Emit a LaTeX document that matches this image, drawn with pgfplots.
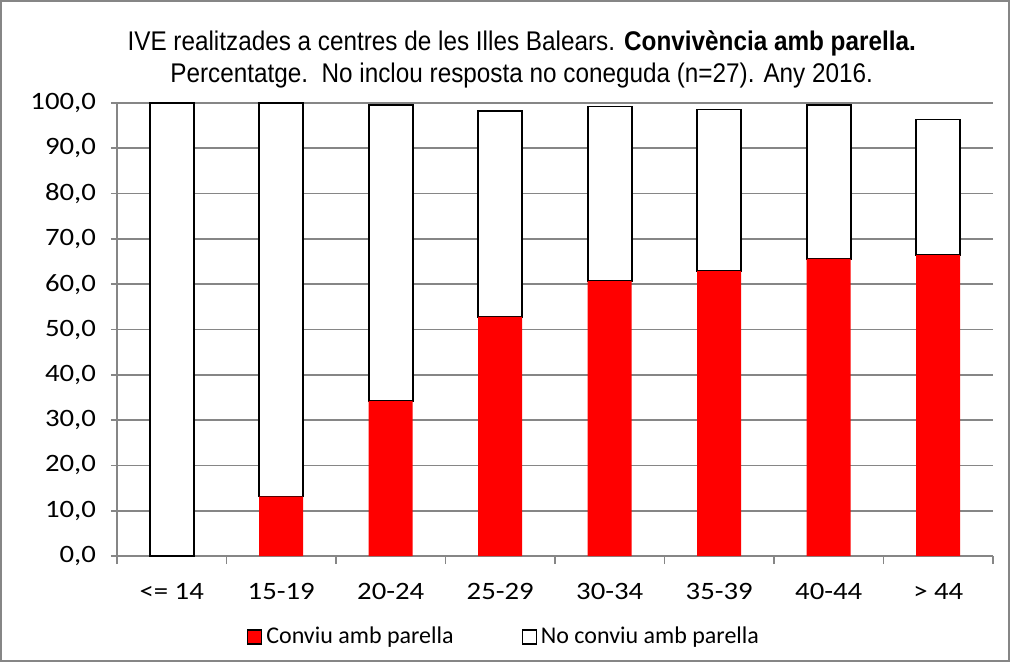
\documentclass[border=0pt]{standalone}
\usepackage{fontspec}
\setmainfont{Carlito}
\newfontfamily\tickfont[FakeStretch=1.15]{Carlito}
\newfontfamily\titlefont[FakeStretch=0.9]{Liberation Sans}
\usepackage{pgfplots}
\pgfplotsset{compat=1.18}
\definecolor{gridgray}{RGB}{134,134,134}
\definecolor{barred}{RGB}{255,0,0}

\begin{document}
\begin{tikzpicture}
% 1 px of the reference = 0.5pt; axis origin at pixel (117,556)
\useasboundingbox (-58.5pt,-53pt) rectangle (446.5pt,278pt);
\draw[gridgray,line width=1pt] (-58pt,-52.5pt) rectangle (446pt,277.5pt);
\begin{axis}[
  at={(0,0)},anchor=south west,
  scale only axis,width=438pt,height=226.5pt,
  ybar stacked,bar width=22pt,
  xmin=-0.5,xmax=7.5,ymin=0,ymax=100,
  axis x line*=bottom,axis y line*=left,
  axis line style={gridgray,line width=0.8pt},
  ymajorgrids,grid style={gridgray,line width=0.8pt},
  ytick={0,10,...,100},
  xtick={0,...,7},
  xticklabels={{<= 14},15-19,20-24,25-29,30-34,35-39,40-44,{> 44}},
  minor xtick={-0.5,0.5,...,7.5},
  tick align=outside,
  major tick length=3pt,
  x tick style={draw=none},
  minor x tick style={draw=gridgray,line width=0.8pt},
  minor tick length=4pt,
  y tick style={gridgray,line width=0.8pt},
  xticklabel style={font=\tickfont\fontsize{12.5}{14}\selectfont,yshift=-7pt},
  yticklabel style={font=\tickfont\fontsize{12.5}{14}\selectfont,xshift=-4pt,
    /pgf/number format/.cd,fixed,fixed zerofill,precision=1,use comma,1000 sep={},assume math mode=true},
  title={IVE realitzades a centres de les Illes Balears. \textbf{Convivència amb parella.}\\Percentatge.\ \ No inclou resposta no coneguda (n=27). Any 2016.},
  title style={align=center,font=\titlefont\fontsize{13.5}{16}\selectfont,at={(0.462,0.99)},anchor=south},
  legend style={draw=none,fill=none,font=\fontsize{12}{14}\selectfont,
    at={(0.443,-0.179)},anchor=center,legend columns=2,
    /tikz/every even column/.append style={column sep=32pt}},
  legend image code/.code={\draw[#1,line width=0.6pt] (0pt,-3.5pt) rectangle (7pt,3.5pt);},
]
\addplot[fill=barred,draw=none] coordinates {(0,0) (1,13.1) (2,34.2) (3,52.8) (4,60.7) (5,62.9) (6,65.6) (7,66.4)};
\addplot[fill=white,draw=black,line width=0.8pt] coordinates {(0,100) (1,86.9) (2,65.3) (3,45.4) (4,38.5) (5,35.7) (6,34.0) (7,30.0)};
\legend{Conviu\ amb parella,No conviu\ amb parella}
\end{axis}
\end{tikzpicture}
\end{document}
